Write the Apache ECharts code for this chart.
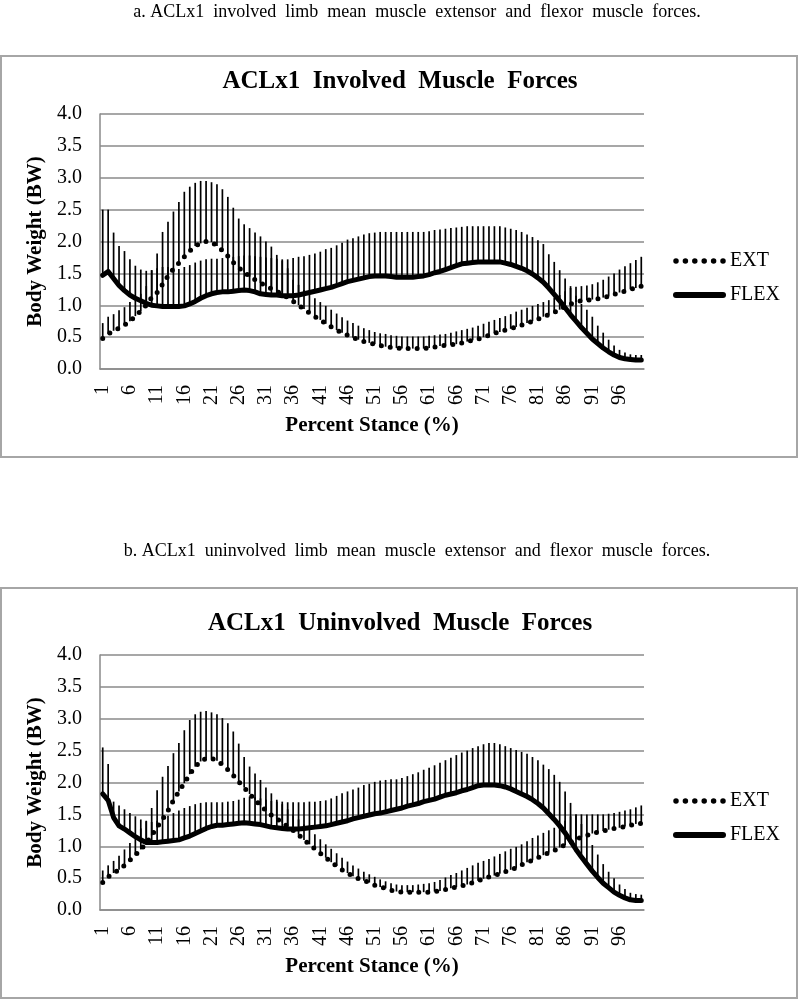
<!DOCTYPE html>
<html><head><meta charset="utf-8">
<script src="https://cdn.jsdelivr.net/npm/echarts@6/dist/echarts.min.js"></script>
<style>html,body{margin:0;padding:0;background:#fff}#c{width:800px;height:1000px}</style>
</head><body><div id="c"></div>
<script>
// Percent stance categories
const categories = [1,2,3,4,5,6,7,8,9,10,11,12,13,14,15,16,17,18,19,20,21,22,23,24,25,26,27,28,29,30,31,32,33,34,35,36,37,38,39,40,41,42,43,44,45,46,47,48,49,50,51,52,53,54,55,56,57,58,59,60,61,62,63,64,65,66,67,68,69,70,71,72,73,74,75,76,77,78,79,80,81,82,83,84,85,86,87,88,89,90,91,92,93,94,95,96,97,98,99,100];
const yTickLabels = ['0.0','0.5','1.0','1.5','2.0','2.5','3.0','3.5','4.0'];

// Panel a: involved limb
const extMeanA = [0.48,0.55,0.60,0.64,0.69,0.75,0.83,0.91,1.00,1.12,1.20,1.33,1.46,1.57,1.66,1.76,1.85,1.93,1.97,2.00,1.99,1.93,1.86,1.77,1.67,1.59,1.52,1.45,1.40,1.35,1.30,1.26,1.22,1.17,1.12,1.06,1.00,0.94,0.88,0.82,0.77,0.71,0.66,0.61,0.57,0.53,0.49,0.46,0.43,0.41,0.39,0.37,0.35,0.34,0.33,0.32,0.32,0.32,0.32,0.32,0.33,0.345,0.36,0.37,0.38,0.39,0.41,0.43,0.45,0.47,0.50,0.53,0.56,0.58,0.61,0.63,0.66,0.69,0.72,0.75,0.78,0.82,0.85,0.89,0.93,0.98,1.02,1.05,1.07,1.08,1.09,1.10,1.12,1.14,1.17,1.20,1.22,1.25,1.27,1.30];
const extUpperA = [0.72,0.82,0.86,0.92,0.97,1.05,1.10,1.18,1.30,1.55,1.81,2.15,2.31,2.47,2.62,2.78,2.86,2.92,2.95,2.95,2.93,2.90,2.82,2.70,2.53,2.36,2.27,2.21,2.14,2.08,2.00,1.92,1.79,1.70,1.58,1.40,1.32,1.24,1.17,1.11,1.05,0.99,0.93,0.87,0.81,0.76,0.72,0.68,0.64,0.61,0.58,0.56,0.55,0.53,0.52,0.51,0.51,0.51,0.51,0.51,0.52,0.53,0.54,0.55,0.57,0.59,0.61,0.63,0.65,0.68,0.71,0.74,0.77,0.80,0.83,0.86,0.90,0.93,0.96,0.99,1.02,1.05,1.08,1.12,1.16,1.22,1.27,1.29,1.30,1.31,1.33,1.36,1.40,1.45,1.50,1.56,1.61,1.66,1.71,1.76];
const flexMeanA = [1.47,1.53,1.42,1.31,1.23,1.16,1.11,1.07,1.03,1.00,0.99,0.98,0.98,0.98,0.98,0.99,1.02,1.06,1.11,1.15,1.18,1.20,1.21,1.21,1.22,1.23,1.24,1.23,1.21,1.18,1.17,1.16,1.16,1.15,1.15,1.15,1.16,1.18,1.20,1.22,1.24,1.26,1.28,1.31,1.34,1.37,1.39,1.41,1.43,1.45,1.46,1.46,1.46,1.45,1.44,1.44,1.44,1.44,1.45,1.46,1.48,1.51,1.53,1.56,1.59,1.62,1.65,1.66,1.67,1.68,1.68,1.68,1.68,1.68,1.66,1.64,1.61,1.58,1.54,1.49,1.43,1.36,1.27,1.17,1.07,0.96,0.85,0.75,0.65,0.56,0.47,0.40,0.33,0.27,0.22,0.18,0.16,0.15,0.14,0.14];
const flexUpperA = [2.50,2.50,2.14,1.93,1.85,1.72,1.62,1.56,1.54,1.55,1.58,1.60,1.60,1.58,1.57,1.60,1.63,1.67,1.70,1.72,1.73,1.73,1.74,1.75,1.76,1.77,1.78,1.78,1.77,1.76,1.75,1.74,1.73,1.72,1.72,1.74,1.76,1.77,1.79,1.81,1.84,1.88,1.90,1.94,1.98,2.03,2.05,2.08,2.11,2.13,2.14,2.15,2.15,2.15,2.15,2.15,2.15,2.15,2.15,2.15,2.16,2.18,2.19,2.20,2.21,2.22,2.23,2.24,2.24,2.24,2.24,2.24,2.24,2.24,2.22,2.20,2.18,2.15,2.11,2.07,2.02,1.96,1.80,1.68,1.55,1.42,1.30,1.15,1.02,0.93,0.82,0.68,0.57,0.46,0.37,0.30,0.26,0.23,0.22,0.22];

// Panel b: uninvolved limb
const extMeanB = [0.43,0.52,0.58,0.63,0.70,0.78,0.86,0.95,1.05,1.17,1.30,1.42,1.56,1.72,1.86,1.99,2.13,2.25,2.33,2.38,2.38,2.34,2.28,2.20,2.11,2.01,1.92,1.82,1.73,1.64,1.56,1.49,1.43,1.37,1.31,1.25,1.18,1.10,1.03,0.96,0.89,0.82,0.75,0.69,0.63,0.58,0.53,0.49,0.46,0.43,0.39,0.36,0.34,0.31,0.29,0.28,0.28,0.28,0.28,0.28,0.28,0.29,0.30,0.32,0.34,0.36,0.38,0.40,0.43,0.46,0.49,0.52,0.54,0.57,0.60,0.63,0.66,0.71,0.75,0.78,0.82,0.86,0.90,0.93,0.98,1.02,1.06,1.11,1.14,1.17,1.20,1.22,1.24,1.26,1.28,1.29,1.31,1.33,1.35,1.36];
const extUpperB = [0.62,0.70,0.77,0.85,0.95,1.05,1.16,1.28,1.40,1.60,1.88,2.09,2.26,2.46,2.62,2.82,2.98,3.07,3.11,3.12,3.10,3.07,3.01,2.93,2.80,2.61,2.40,2.25,2.14,2.04,1.92,1.83,1.73,1.66,1.58,1.50,1.42,1.34,1.26,1.19,1.11,1.03,0.96,0.89,0.82,0.76,0.70,0.65,0.60,0.56,0.52,0.48,0.45,0.42,0.40,0.39,0.39,0.39,0.40,0.41,0.42,0.44,0.47,0.51,0.55,0.58,0.62,0.66,0.70,0.74,0.77,0.80,0.84,0.88,0.92,0.96,0.99,1.03,1.08,1.13,1.17,1.21,1.25,1.29,1.33,1.40,1.47,1.50,1.50,1.50,1.50,1.50,1.50,1.51,1.52,1.54,1.56,1.58,1.61,1.64];
const flexMeanB = [1.82,1.72,1.45,1.32,1.27,1.21,1.15,1.10,1.06,1.06,1.06,1.07,1.08,1.09,1.10,1.13,1.16,1.20,1.24,1.28,1.31,1.33,1.33,1.34,1.35,1.36,1.37,1.36,1.35,1.34,1.32,1.30,1.29,1.28,1.27,1.27,1.27,1.28,1.29,1.30,1.31,1.32,1.34,1.36,1.38,1.40,1.43,1.45,1.47,1.49,1.51,1.52,1.54,1.56,1.58,1.60,1.63,1.65,1.67,1.70,1.72,1.74,1.77,1.80,1.82,1.84,1.87,1.89,1.92,1.95,1.96,1.96,1.96,1.95,1.93,1.90,1.86,1.82,1.78,1.73,1.67,1.60,1.51,1.42,1.32,1.21,1.08,0.95,0.83,0.72,0.61,0.51,0.42,0.35,0.28,0.23,0.19,0.16,0.15,0.15];
const flexUpperB = [2.55,2.29,1.70,1.64,1.58,1.52,1.47,1.42,1.39,1.38,1.40,1.44,1.48,1.52,1.56,1.60,1.63,1.66,1.68,1.69,1.69,1.69,1.69,1.70,1.71,1.73,1.76,1.78,1.77,1.75,1.73,1.71,1.70,1.70,1.69,1.69,1.69,1.69,1.70,1.70,1.71,1.72,1.75,1.79,1.83,1.86,1.89,1.92,1.96,1.98,2.01,2.03,2.04,2.05,2.05,2.07,2.10,2.13,2.16,2.20,2.23,2.27,2.31,2.35,2.39,2.43,2.47,2.50,2.54,2.57,2.60,2.62,2.62,2.60,2.57,2.54,2.51,2.48,2.45,2.40,2.35,2.28,2.21,2.12,2.01,1.86,1.68,1.50,1.35,1.20,1.02,0.87,0.72,0.60,0.50,0.40,0.33,0.27,0.25,0.24];

const FONT = '"Liberation Serif", "Times New Roman", serif';
const chart = echarts.init(document.getElementById('c'), null, {renderer: 'canvas'});

const DOT_DASH = [0, 9];

function errData(mean, upper) {
  return mean.map((m, i) => [i, m, upper[i]]);
}
function errRender(params, api) {
  const x = api.value(0);
  const p1 = api.coord([x, api.value(1)]);
  const p2 = api.coord([x, api.value(2)]);
  return {type: 'line', shape: {x1: p1[0], y1: p1[1], x2: p2[0], y2: p2[1]},
          style: {stroke: '#000', lineWidth: 1.7}};
}

const gridTops = [114, 655];
function xAxis(gi) {
  return {type: 'category', gridIndex: gi, data: categories, boundaryGap: true,
    name: 'Percent Stance (%)', nameLocation: 'middle', nameGap: 46,
    nameTextStyle: {fontFamily: FONT, fontSize: 21, fontWeight: 'bold', color: '#000'},
    axisLine: {lineStyle: {color: '#8a8a8a', width: 1.5}},
    axisTick: {show: false},
    axisLabel: {interval: 4, rotate: 90, margin: 16, fontFamily: FONT, fontSize: 20, color: '#000'},
    splitLine: {show: false}};
}
function yAxis(gi) {
  return {type: 'value', gridIndex: gi, min: Number(yTickLabels[0]), max: Number(yTickLabels[yTickLabels.length-1]),
    interval: Number(yTickLabels[1]) - Number(yTickLabels[0]),
    name: 'Body Weight (BW)', nameLocation: 'middle', nameGap: 50, nameRotate: 90,
    nameTextStyle: {fontFamily: FONT, fontSize: 21, fontWeight: 'bold', color: '#000'},
    axisLine: {show: true, lineStyle: {color: '#8a8a8a', width: 1.5}},
    axisTick: {show: false},
    axisLabel: {margin: 18, fontFamily: FONT, fontSize: 20, color: '#000', formatter: v => v.toFixed(1)},
    splitLine: {lineStyle: {color: '#8a8a8a', width: 1.5}}};
}
function lineSeries(name, gi, data, dotted) {
  return {name: name, type: 'line', xAxisIndex: gi, yAxisIndex: gi, data: data,
    symbol: 'none', showSymbol: false, z: 3, silent: true, animation: false,
    itemStyle: {color: '#000'},
    lineStyle: dotted ? {color: '#000', width: 5, type: DOT_DASH, cap: 'round'}
                      : {color: '#000', width: 5, cap: 'round', join: 'round'}};
}
function errSeries(gi, mean, upper) {
  return {type: 'custom', xAxisIndex: gi, yAxisIndex: gi, renderItem: errRender,
    data: errData(mean, upper), encode: {x: 0, y: [1, 2]}, z: 2, silent: true, animation: false};
}
function legendAt(top) {
  const hidden = {color: 'rgba(0,0,0,0)', borderColor: 'rgba(0,0,0,0)', borderWidth: 0, opacity: 0};
  return {orient: 'vertical', left: 668, top: top, itemWidth: 47, itemHeight: 14, itemGap: 14,
    selectedMode: false,
    itemStyle: hidden,
    data: [
      {name: 'EXT', itemStyle: hidden,
       lineStyle: {color: '#000', width: 5.5, type: [0, 9.4], cap: 'round', opacity: 1}},
      {name: 'FLEX', itemStyle: hidden,
       lineStyle: {color: '#000', width: 6, cap: 'round', opacity: 1}}
    ],
    textStyle: {fontFamily: FONT, fontSize: 20, color: '#000', padding: [0, 0, 0, 2]}};
}

chart.setOption({
  animation: false,
  backgroundColor: '#fff',
  title: [
    {text: 'ACLx1  Involved  Muscle  Forces', left: 'center', top: 64,
     textStyle: {fontFamily: FONT, fontSize: 25, fontWeight: 'bold', color: '#000'}},
    {text: 'ACLx1  Uninvolved  Muscle  Forces', left: 'center', top: 606,
     textStyle: {fontFamily: FONT, fontSize: 25, fontWeight: 'bold', color: '#000'}}
  ],
  legend: [legendAt(246), legendAt(786)],
  grid: [
    {left: 100, top: gridTops[0], width: 544, height: 255},
    {left: 100, top: gridTops[1], width: 544, height: 255}
  ],
  xAxis: [xAxis(0), xAxis(1)],
  yAxis: [yAxis(0), yAxis(1)],
  series: [
    errSeries(0, extMeanA, extUpperA),
    errSeries(0, flexMeanA, flexUpperA),
    lineSeries('EXT', 0, extMeanA, true),
    lineSeries('FLEX', 0, flexMeanA, false),
    errSeries(1, extMeanB, extUpperB),
    errSeries(1, flexMeanB, flexUpperB),
    lineSeries('EXT', 1, extMeanB, true),
    lineSeries('FLEX', 1, flexMeanB, false)
  ],
  graphic: [
    {type: 'rect', shape: {x: 1, y: 56, width: 796, height: 401}, style: {fill: 'none', stroke: '#a6a6a6', lineWidth: 2}, silent: true},
    {type: 'rect', shape: {x: 1, y: 588, width: 796, height: 410}, style: {fill: 'none', stroke: '#a6a6a6', lineWidth: 2}, silent: true},
    {type: 'text', style: {text: 'a. ACLx1  involved  limb  mean  muscle  extensor  and  flexor  muscle  forces.', x: 417, y: 12,
      font: '18px ' + FONT, fill: '#000', textAlign: 'center', textVerticalAlign: 'middle'}, silent: true},
    {type: 'text', style: {text: 'b. ACLx1  uninvolved  limb  mean  muscle  extensor  and  flexor  muscle  forces.', x: 417, y: 551,
      font: '18px ' + FONT, fill: '#000', textAlign: 'center', textVerticalAlign: 'middle'}, silent: true}
  ]
});
</script>
</body></html>
